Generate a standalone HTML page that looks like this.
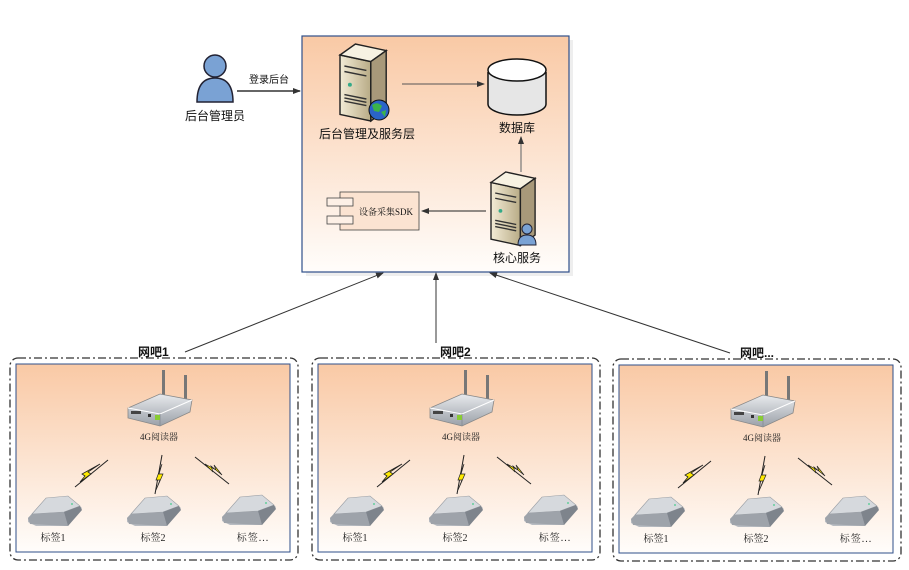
<!DOCTYPE html>
<html><head><meta charset="utf-8"><style>
body{margin:0;background:#fff;}
svg{display:block;font-family:"Liberation Sans","Noto Sans CJK SC",sans-serif;}
</style></head><body>
<svg width="909" height="570" viewBox="0 0 909 570" xmlns="http://www.w3.org/2000/svg">
<defs>
<linearGradient id="pg" x1="0" y1="0" x2="0" y2="1">
<stop offset="0" stop-color="#f9c9a5"/><stop offset="1" stop-color="#fffdfb"/></linearGradient>
<linearGradient id="srv" x1="0" y1="0" x2="1" y2="0">
<stop offset="0" stop-color="#f3ecd6"/><stop offset="1" stop-color="#b8ab86"/></linearGradient>
<linearGradient id="dev" x1="0" y1="0" x2="0" y2="1">
<stop offset="0" stop-color="#e8eaed"/><stop offset="1" stop-color="#9aa0a8"/></linearGradient>
<marker id="ar" markerWidth="8" markerHeight="8" refX="7" refY="4" orient="auto" markerUnits="userSpaceOnUse">
<path d="M0,1 L8,4 L0,7 z" fill="#333"/></marker>
<g id="server">
<path d="M0,10 L14,0 L42,6 L42,60 L28,70 L0,64 z" fill="#8c8266"/>
<path d="M0,10 L28,16 L28,70 L0,64 z" fill="url(#srv)" stroke="#222" stroke-width="1.3"/>
<path d="M0,10 L14,0 L42,6 L28,16 z" fill="#f7f2e2" stroke="#222" stroke-width="1.3"/>
<path d="M28,16 L42,6 L42,60 L28,70 z" fill="#a8997a" stroke="#222" stroke-width="1.3"/>
<path d="M4,20 L24,24 M4,25 L24,29 M4,46 L24,50 M4,49 L24,53 M4,52 L24,56" stroke="#333" stroke-width="1.3"/>
<circle cx="9" cy="37" r="1.8" fill="#3a8"/>
</g>
<g id="lbolt">
<path d="M0,0 L-12,8 L-9,10 L-20,18 L-15,12 L-18,10 z" fill="#ffea00" stroke="#222" stroke-width="0.8"/>
</g>
<g id="tag">
<path d="M0,22 L16,4 L40,0 L54,12 L40,30 L8,30 L0,26 z" fill="#b8bcc2"/>
<path d="M4,18 L18,2 L40,0 L52,10 L36,16 z" fill="#d6d9dd" stroke="#9a9ea4" stroke-width="0.6"/>
<path d="M0,22 L4,18 L36,16 L40,30 L2,28 z" fill="#9ea3aa"/>
<path d="M36,16 L52,10 L54,14 L40,30 z" fill="#7e848c"/>
<circle cx="44" cy="8" r="0.9" fill="#4c8"/>
</g>
<g id="cluster">
<rect x="10" y="358" width="288" height="202" rx="8" fill="none" stroke="#333" stroke-width="1.3" stroke-dasharray="8,3,2,3"/>
<rect x="16" y="364" width="274" height="188" fill="url(#pg)" stroke="#2f4f8a" stroke-width="1"/>
<rect x="162" y="370" width="3" height="28" fill="#777"/>
<rect x="184" y="375" width="3" height="26" fill="#777"/>
<path d="M128,408 L160,394 L192,400 L190,412 L160,426 L128,418 z" fill="url(#dev)" stroke="#888" stroke-width="0.8"/>
<path d="M128,408 L160,414 L192,400" fill="none" stroke="#fff" stroke-width="1"/>
<path d="M160,414 L160,426" stroke="#8a9098"/>
<rect x="131" y="411" width="10" height="3" fill="#444"/>
<rect x="148" y="414" width="3" height="3" fill="#333"/>
<rect x="155" y="415" width="5" height="5" fill="#8c3"/>
<text x="159" y="440" font-size="9" text-anchor="middle" fill="#222" font-family="Liberation Serif,'Noto Serif CJK SC',serif">4G阅读器</text>
<path d="M108,460 L75,487" stroke="#222" stroke-width="1"/>
<use href="#lbolt" transform="translate(100,464)"/>
<path d="M162,455 L155,494" stroke="#222" stroke-width="1"/>
<path d="M162,464 L156,480 L160,480 L156,490 L163,474 L159,474 z" fill="#ffea00" stroke="#222" stroke-width="0.7"/>
<path d="M195,457 L229,484" stroke="#222" stroke-width="1"/>
<path d="M205,464 L213,472 L211,466 L222,475 L214,465 L216,470 z" fill="#ffea00" stroke="#222" stroke-width="0.7"/>
<use href="#tag" transform="translate(28,496)"/>
<use href="#tag" transform="translate(127,496)"/>
<use href="#tag" transform="translate(222,495)"/>
<g font-size="10" fill="#222" text-anchor="middle" font-family="Liberation Serif,'Noto Serif CJK SC',serif">
<text x="53" y="541">标签1</text><text x="153" y="541">标签2</text><text x="253" y="541" letter-spacing="1">标签...</text></g>
</g>
</defs>

<rect x="306" y="40" width="267" height="236" fill="#eee"/>
<rect x="302" y="36" width="267" height="236" fill="url(#pg)" stroke="#2f4f8a" stroke-width="1.2"/>

<circle cx="215" cy="66" r="11" fill="#7aa2d4" stroke="#223" stroke-width="1.5"/>
<path d="M197,102 Q197,78 215,78 Q233,78 233,102 z" fill="#7aa2d4" stroke="#223" stroke-width="1.5"/>
<text x="215" y="120" font-size="12" text-anchor="middle" fill="#111">后台管理员</text>
<line x1="237" y1="91" x2="300" y2="91" stroke="#333" stroke-width="1.5" marker-end="url(#ar)"/>
<text x="269" y="83" font-size="10" text-anchor="middle" fill="#111">登录后台</text>

<use href="#server" transform="translate(340,44) scale(1.1)"/>
<circle cx="379" cy="110" r="10" fill="#2a64c8" stroke="#111"/>
<path d="M372,105 Q377,101 382,106 L379,112 L374,111 z M381,112 L386,110 L385,117 z" fill="#3bb34a"/>
<text x="367" y="138" font-size="12" text-anchor="middle" fill="#111">后台管理及服务层</text>
<line x1="402" y1="84" x2="484" y2="84" stroke="#555" stroke-width="1" marker-end="url(#ar)"/>

<path d="M488,72 L488,104 A29,11 0 0 0 546,104 L546,72" fill="#e6e6e6" stroke="#111" stroke-width="1.5"/>
<ellipse cx="517" cy="70" rx="29" ry="11" fill="#fff" stroke="#111" stroke-width="1.5"/>
<text x="517" y="132" font-size="12" text-anchor="middle" fill="#111">数据库</text>
<line x1="521" y1="172" x2="521" y2="137" stroke="#777" stroke-width="1.2" marker-end="url(#ar)"/>

<use href="#server" transform="translate(491,172) scale(1.05)"/>
<circle cx="527" cy="229" r="5" fill="#7aa2d4" stroke="#223"/>
<path d="M518,245 Q518,235 527,235 Q536,235 536,245 z" fill="#7aa2d4" stroke="#223"/>
<text x="517" y="262" font-size="12" text-anchor="middle" fill="#111">核心服务</text>
<line x1="486" y1="211" x2="422" y2="211" stroke="#222" stroke-width="1" marker-end="url(#ar)"/>

<rect x="340" y="192" width="79" height="38" fill="#fbe3d1" stroke="#444" stroke-width="0.8"/>
<rect x="327" y="198" width="26" height="8" fill="#fdf0e6" stroke="#444" stroke-width="0.8"/>
<rect x="327" y="216" width="26" height="8" fill="#fdf0e6" stroke="#444" stroke-width="0.8"/>
<text x="386" y="215" font-size="9" text-anchor="middle" fill="#111" font-family="Liberation Serif,'Noto Serif CJK SC',serif">设备采集SDK</text>

<line x1="185" y1="352" x2="383" y2="273" stroke="#333" stroke-width="1" marker-end="url(#ar)"/>
<line x1="436" y1="343" x2="436" y2="273" stroke="#333" stroke-width="1" marker-end="url(#ar)"/>
<line x1="730" y1="353" x2="490" y2="273" stroke="#333" stroke-width="1" marker-end="url(#ar)"/>

<use href="#cluster"/>
<use href="#cluster" transform="translate(302,0)"/>
<use href="#cluster" transform="translate(603,1)"/>

<g font-size="12" font-weight="bold" fill="#111">
<text x="138" y="356">网吧1</text>
<text x="440" y="356">网吧2</text>
<text x="740" y="357">网吧...</text>
</g>
</svg>
</body></html>
